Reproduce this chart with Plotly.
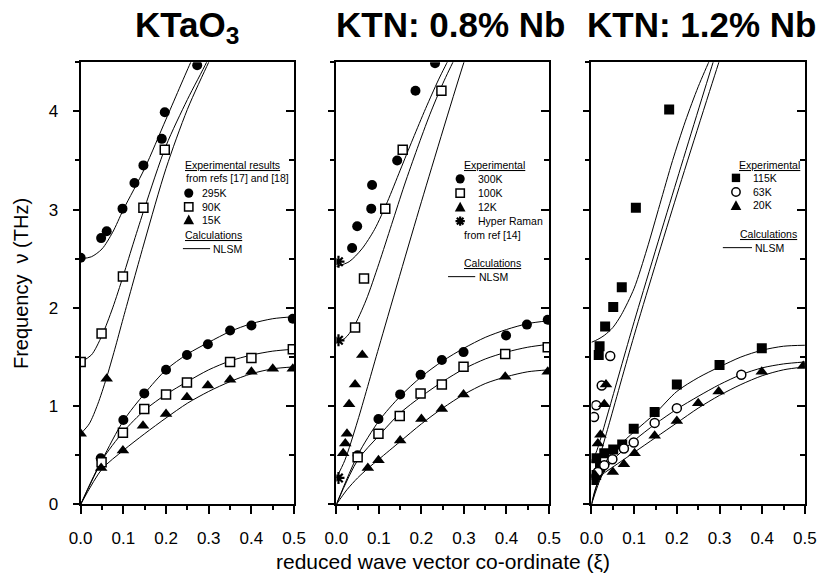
import plotly.graph_objects as go

W, H = 831, 580

# ---------------- data ----------------
# Panel 1: KTaO3
kt_295_x = [0.0, 0.048, 0.061, 0.098, 0.126, 0.147, 0.19, 0.197, 0.273, 0.047, 0.10, 0.149, 0.2, 0.249, 0.298, 0.35, 0.40, 0.497]
kt_295_y = [2.51, 2.71, 2.78, 3.01, 3.27, 3.45, 3.72, 3.99, 4.47, 0.47, 0.86, 1.13, 1.37, 1.52, 1.63, 1.77, 1.82, 1.89]
kt_90_x = [0.0, 0.049, 0.099, 0.147, 0.197, 0.049, 0.099, 0.149, 0.2, 0.249, 0.35, 0.40, 0.497]
kt_90_y = [1.45, 1.74, 2.32, 3.02, 3.61, 0.43, 0.73, 0.97, 1.12, 1.24, 1.45, 1.49, 1.58]
kt_15_x = [0.0, 0.061, 0.048, 0.099, 0.146, 0.2, 0.249, 0.298, 0.35, 0.40, 0.45, 0.497]
kt_15_y = [0.72, 1.28, 0.37, 0.55, 0.80, 0.92, 1.09, 1.21, 1.27, 1.35, 1.38, 1.38]

kt_to295_x = [0, 0.025, 0.05, 0.075, 0.1, 0.15, 0.2, 0.26, 0.28]
kt_to295_y = [2.5, 2.52, 2.6, 2.77, 3.0, 3.42, 3.92, 4.52, 4.7]
kt_to90_x = [0, 0.025, 0.05, 0.075, 0.1, 0.125, 0.15, 0.2, 0.25, 0.295, 0.31]
kt_to90_y = [1.45, 1.52, 1.72, 2.0, 2.33, 2.68, 3.02, 3.65, 4.12, 4.5, 4.65]
kt_to15_x = [0, 0.02, 0.04, 0.06, 0.08, 0.1, 0.15, 0.2, 0.25, 0.3, 0.32]
kt_to15_y = [0.72, 0.82, 1.02, 1.28, 1.58, 1.9, 2.68, 3.42, 4.02, 4.5, 4.68]
ta_x = [0, 0.05, 0.1, 0.15, 0.2, 0.25, 0.3, 0.35, 0.4, 0.45, 0.5]
kt_ta295_y = [0, 0.45, 0.85, 1.13, 1.37, 1.53, 1.65, 1.76, 1.84, 1.89, 1.91]
kt_ta90_y = [0, 0.45, 0.74, 0.96, 1.12, 1.25, 1.37, 1.46, 1.52, 1.56, 1.58]
kt_ta15_y = [0, 0.36, 0.55, 0.72, 0.88, 1.03, 1.15, 1.25, 1.33, 1.38, 1.40]

# Panel 2: KTN 0.8% Nb
k8_300_x = [0.037, 0.049, 0.082, 0.084, 0.143, 0.186, 0.232, 0.05, 0.099, 0.15, 0.198, 0.248, 0.299, 0.399, 0.448, 0.497]
k8_300_y = [2.61, 2.83, 3.01, 3.25, 3.50, 4.21, 4.49, 0.50, 0.87, 1.12, 1.32, 1.47, 1.55, 1.72, 1.83, 1.88]
k8_100_x = [0.044, 0.065, 0.115, 0.156, 0.247, 0.05, 0.099, 0.149, 0.198, 0.248, 0.299, 0.397, 0.497]
k8_100_y = [1.80, 2.30, 3.01, 3.61, 4.21, 0.48, 0.72, 0.90, 1.13, 1.22, 1.40, 1.53, 1.60]
k8_12_x = [0.016, 0.021, 0.025, 0.030, 0.044, 0.061, 0.074, 0.099, 0.15, 0.2, 0.248, 0.299, 0.397, 0.497]
k8_12_y = [0.52, 0.62, 0.72, 1.02, 1.22, 1.52, 0.37, 0.45, 0.65, 0.87, 0.97, 1.12, 1.30, 1.35]
k8_hr_x = [0.005, 0.005, 0.005]
k8_hr_y = [2.47, 1.67, 0.27]

k8_to300_x = [0, 0.03, 0.06, 0.09, 0.12, 0.15, 0.18, 0.21, 0.24, 0.27, 0.29]
k8_to300_y = [2.42, 2.47, 2.6, 2.8, 3.08, 3.4, 3.72, 4.03, 4.32, 4.58, 4.75]
k8_to100_x = [0, 0.02, 0.04, 0.07, 0.1, 0.13, 0.16, 0.19, 0.22, 0.25, 0.28, 0.3]
k8_to100_y = [1.65, 1.69, 1.8, 2.08, 2.45, 2.85, 3.25, 3.62, 3.97, 4.28, 4.55, 4.7]
k8_to12_x = [0, 0.02, 0.05, 0.1, 0.2, 0.3, 0.32]
k8_to12_y = [0.27, 0.45, 0.85, 1.6, 3.08, 4.5, 4.75]
k8_ta300_y = [0, 0.5, 0.85, 1.1, 1.3, 1.46, 1.59, 1.7, 1.78, 1.84, 1.87]
k8_ta100_y = [0, 0.45, 0.7, 0.93, 1.1, 1.25, 1.38, 1.48, 1.55, 1.6, 1.63]
k8_ta12_x = [0, 0.025, 0.05, 0.075, 0.1, 0.15, 0.2, 0.25, 0.3, 0.35, 0.4, 0.45, 0.5]
k8_ta12_y = [0, 0.15, 0.27, 0.37, 0.46, 0.64, 0.82, 0.98, 1.12, 1.23, 1.30, 1.35, 1.37]

# Panel 3: KTN 1.2% Nb
k12_115_x = [0.182, 0.104, 0.071, 0.051, 0.032, 0.019, 0.017, 0.399, 0.30, 0.20, 0.148, 0.099, 0.072, 0.051, 0.011, 0.011, 0.03, 0.02, 0.005]
k12_115_y = [4.02, 3.02, 2.21, 2.01, 1.81, 1.61, 1.52, 1.59, 1.42, 1.22, 0.94, 0.77, 0.61, 0.56, 0.47, 0.30, 0.52, 0.38, 0.25]
k12_63_x = [0.044, 0.024, 0.011, 0.006, 0.351, 0.20, 0.148, 0.099, 0.076, 0.049, 0.03, 0.015]
k12_63_y = [1.51, 1.21, 1.01, 0.89, 1.32, 0.98, 0.83, 0.63, 0.57, 0.46, 0.40, 0.33]
k12_20_x = [0.034, 0.030, 0.021, 0.015, 0.01, 0.008, 0.496, 0.399, 0.298, 0.25, 0.20, 0.148, 0.101, 0.076, 0.05]
k12_20_y = [1.22, 1.02, 0.71, 0.62, 0.45, 0.30, 1.41, 1.35, 1.15, 1.03, 0.85, 0.70, 0.52, 0.41, 0.33]

k12_to115_x = [0, 0.015, 0.03, 0.05, 0.07, 0.1, 0.13, 0.16, 0.19, 0.22, 0.25, 0.28, 0.3]
k12_to115_y = [1.65, 1.68, 1.72, 1.8, 1.93, 2.2, 2.6, 3.05, 3.5, 3.9, 4.25, 4.55, 4.72]
k12_to63_x = [0, 0.01, 0.02, 0.04, 0.1, 0.2, 0.285, 0.3]
k12_to63_y = [0.45, 0.52, 0.65, 0.95, 1.86, 3.3, 4.5, 4.7]
k12_to20_x = [0, 0.01, 0.02, 0.04, 0.1, 0.2, 0.3, 0.31]
k12_to20_y = [0.3, 0.37, 0.5, 0.8, 1.72, 3.15, 4.52, 4.65]
k12_ta115_x = [0, 0.02, 0.04, 0.065, 0.1, 0.15, 0.2, 0.25, 0.3, 0.35, 0.4, 0.45, 0.5]
k12_ta115_y = [0, 0.3, 0.48, 0.6, 0.74, 0.93, 1.15, 1.29, 1.40, 1.50, 1.57, 1.61, 1.62]
k12_ta63_x = [0, 0.025, 0.05, 0.1, 0.15, 0.2, 0.25, 0.3, 0.35, 0.4, 0.45, 0.5]
k12_ta63_y = [0, 0.3, 0.45, 0.65, 0.82, 0.97, 1.1, 1.22, 1.32, 1.39, 1.43, 1.45]
k12_ta20_x = [0, 0.01, 0.025, 0.05, 0.1, 0.15, 0.2, 0.25, 0.3, 0.35, 0.4, 0.45, 0.5]
k12_ta20_y = [0, 0.17, 0.3, 0.38, 0.53, 0.68, 0.83, 0.98, 1.11, 1.22, 1.31, 1.37, 1.40]

titles = ["KTaO<sub>3</sub>", "KTN: 0.8% Nb", "KTN: 1.2% Nb"]
x_ticks = [0.0, 0.1, 0.2, 0.3, 0.4, 0.5]
y_ticks = [0, 1, 2, 3, 4]

# ---------------- figure ----------------
FONT = "Liberation Sans, Arial, sans-serif"
fig = go.Figure()

def curve(x, y, ax):
    fig.add_trace(go.Scatter(x=x, y=y, mode="lines", xaxis=ax[0], yaxis=ax[1],
                             line=dict(color="black", width=1, shape="spline", smoothing=0.8),
                             showlegend=False, hoverinfo="skip"))

FILLED_CIRCLE = dict(symbol="circle", size=10, color="black", line=dict(width=0))
OPEN_SQUARE = dict(symbol="square", size=9, color="white", line=dict(width=1.5, color="black"))
FILLED_TRI = dict(symbol="triangle-up", size=11, color="black", line=dict(width=0))
FILLED_SQUARE = dict(symbol="square", size=10, color="black", line=dict(width=0))
OPEN_CIRCLE = dict(symbol="circle", size=9, color="white", line=dict(width=1.5, color="black"))
ASTER = dict(symbol="asterisk", size=10, color="black", line=dict(width=2.2, color="black"))

def pts(x, y, ax, marker):
    fig.add_trace(go.Scatter(x=x, y=y, mode="markers", xaxis=ax[0], yaxis=ax[1],
                             marker=marker, showlegend=False, hoverinfo="skip"))

A1, A2, A3 = ("x", "y"), ("x2", "y2"), ("x3", "y3")

for cx, cy in [(kt_to295_x, kt_to295_y), (kt_to90_x, kt_to90_y), (kt_to15_x, kt_to15_y),
               (ta_x, kt_ta295_y), (ta_x, kt_ta90_y), (ta_x, kt_ta15_y)]:
    curve(cx, cy, A1)
for cx, cy in [(k8_to300_x, k8_to300_y), (k8_to100_x, k8_to100_y), (k8_to12_x, k8_to12_y),
               (ta_x, k8_ta300_y), (ta_x, k8_ta100_y), (k8_ta12_x, k8_ta12_y)]:
    curve(cx, cy, A2)
for cx, cy in [(k12_to115_x, k12_to115_y), (k12_to63_x, k12_to63_y), (k12_to20_x, k12_to20_y),
               (k12_ta115_x, k12_ta115_y), (k12_ta63_x, k12_ta63_y), (k12_ta20_x, k12_ta20_y)]:
    curve(cx, cy, A3)

pts(kt_295_x, kt_295_y, A1, FILLED_CIRCLE)
pts(kt_90_x, kt_90_y, A1, OPEN_SQUARE)
pts(kt_15_x, kt_15_y, A1, FILLED_TRI)
pts(k8_300_x, k8_300_y, A2, FILLED_CIRCLE)
pts(k8_100_x, k8_100_y, A2, OPEN_SQUARE)
pts(k8_12_x, k8_12_y, A2, FILLED_TRI)
pts(k8_hr_x, k8_hr_y, A2, ASTER)
pts(k12_115_x, k12_115_y, A3, FILLED_SQUARE)
pts(k12_63_x, k12_63_y, A3, OPEN_CIRCLE)
pts(k12_20_x, k12_20_y, A3, FILLED_TRI)

# empty traces so the right-hand tick axes are drawn
for xa, ya in [("x", "y4"), ("x2", "y5"), ("x3", "y6")]:
    fig.add_trace(go.Scatter(x=[None], y=[None], xaxis=xa, yaxis=ya, mode="markers",
                             showlegend=False, hoverinfo="skip"))

# ---------------- axes ----------------
x_dom_px = [(70.7, 290.5), (334.0, 553.0), (596.7, 816.5)]
y_dom = [1 - 513.3 / H, 1 - 63.3 / H]

layout = dict(width=W, height=H, margin=dict(l=0, r=0, t=0, b=0),
              paper_bgcolor="white", plot_bgcolor="white", showlegend=False,
              font=dict(family=FONT, color="black"))

for i, (a, b) in enumerate(x_dom_px):
    n = "" if i == 0 else str(i + 1)
    layout["xaxis" + n] = dict(
        domain=[a / W, b / W], anchor="y" + n, range=[0, 0.5],
        tickvals=x_ticks, ticktext=[f"{v:.1f}" for v in x_ticks],
        ticks="outside", ticklen=8, tickwidth=1.5, tickcolor="black",
        minor=dict(ticks="outside", ticklen=4, dtick=0.05, tick0=0, tickwidth=1.5, tickcolor="black"),
        showline=True, linewidth=2, linecolor="black", mirror=True,
        showgrid=False, zeroline=False, tickfont=dict(size=17, family=FONT),
        ticklabelstandoff=9)
    layout["yaxis" + n] = dict(
        domain=y_dom, anchor="x" + n, range=[0, 4.5],
        tickvals=y_ticks, ticktext=[str(v) for v in y_ticks],
        showticklabels=(i == 0),
        ticks="outside", ticklen=6, tickwidth=1.5, tickcolor="black",
        minor=dict(ticks="outside", ticklen=4, dtick=0.5, tick0=0, tickwidth=1.5, tickcolor="black"),
        showline=True, linewidth=2, linecolor="black", mirror=True,
        showgrid=False, zeroline=False, tickfont=dict(size=17, family=FONT),
        ticklabelstandoff=11)
    layout["yaxis" + str(i + 4)] = dict(
        overlaying="y" + n, anchor="x" + n, side="right", range=[0, 4.5],
        tickvals=y_ticks, showticklabels=False,
        ticks="inside", ticklen=8, tickwidth=1.5, tickcolor="black",
        minor=dict(ticks="inside", ticklen=5, dtick=0.5, tick0=0, tickwidth=1.5, tickcolor="black"),
        showline=False, showgrid=False, zeroline=False)

fig.update_layout(**layout)

# ---------------- text ----------------
def X(px): return px / W
def Y(py): return 1 - py / H

ann = []
title_cx = [180, 452, 710]
for t, cx in zip(titles, title_cx):
    ann.append(dict(text="<b>" + t + "</b>", x=X(cx), y=Y(3), xref="paper", yref="paper",
                    xanchor="center", yanchor="top", showarrow=False,
                    font=dict(size=35, family=FONT)))
ann.append(dict(text="reduced wave vector co-ordinate (\u03be)", x=X(443.6), y=Y(571),
                xref="paper", yref="paper", xanchor="center", yanchor="middle",
                showarrow=False, font=dict(size=21, family=FONT)))
ann.append(dict(text="Frequency  \u03bd (THz)", x=X(10), y=Y(288.3), textangle=-90,
                xref="paper", yref="paper", xanchor="center", yanchor="middle",
                showarrow=False, font=dict(size=20, family=FONT)))

LF = dict(size=10.5, family=FONT)
def label(txt, px, py):
    ann.append(dict(text=txt, x=X(px), y=Y(py), xref="paper", yref="paper",
                    xanchor="left", yanchor="middle", showarrow=False, font=LF))

shapes = []
def sym_circle(cx, cy, filled=True, r=4.7):
    shapes.append(dict(type="circle", xref="paper", yref="paper",
                       x0=X(cx - r), x1=X(cx + r), y0=Y(cy + r), y1=Y(cy - r),
                       fillcolor="black" if filled else "white",
                       line=dict(color="black", width=0 if filled else 1.5)))
def sym_square(cx, cy, filled=True, s=4.3):
    shapes.append(dict(type="rect", xref="paper", yref="paper",
                       x0=X(cx - s), x1=X(cx + s), y0=Y(cy + s), y1=Y(cy - s),
                       fillcolor="black" if filled else "white",
                       line=dict(color="black", width=0 if filled else 1.5)))
def sym_tri(cx, cy, s=5.5):
    p = f"M {X(cx - s)},{Y(cy + s * 0.85)} L {X(cx + s)},{Y(cy + s * 0.85)} L {X(cx)},{Y(cy - s * 0.95)} Z"
    shapes.append(dict(type="path", xref="paper", yref="paper", path=p,
                       fillcolor="black", line=dict(color="black", width=0)))
def sym_aster(cx, cy, s=4.8):
    d = s * 0.707
    p = (f"M {X(cx - s)},{Y(cy)} L {X(cx + s)},{Y(cy)} "
         f"M {X(cx)},{Y(cy - s)} L {X(cx)},{Y(cy + s)} "
         f"M {X(cx - d)},{Y(cy - d)} L {X(cx + d)},{Y(cy + d)} "
         f"M {X(cx - d)},{Y(cy + d)} L {X(cx + d)},{Y(cy - d)}")
    shapes.append(dict(type="path", xref="paper", yref="paper", path=p,
                       line=dict(color="black", width=2.2)))
def sample_line(x0, x1, py):
    shapes.append(dict(type="line", xref="paper", yref="paper",
                       x0=X(x0), x1=X(x1), y0=Y(py), y1=Y(py),
                       line=dict(color="black", width=1)))

# legend panel 1
label("<u>Experimental results</u>", 176, 167.5)
label("from refs [17] and [18]", 177.5, 181.5)
sym_circle(182, 196.5); label("295K", 194, 196.5)
sym_square(182, 210.5, filled=False); label("90K", 194, 210.5)
sym_tri(182, 223.5); label("15K", 194, 223.5)
label("<u>Calculations</u>", 176, 239)
sample_line(176, 204, 253); label("NLSM", 205, 253)

# legend panel 2
label("<u>Experimental</u>", 463, 167.5)
sym_circle(461.5, 182); label("300K", 477.5, 182)
sym_square(461.5, 196.5, filled=False); label("100K", 477.5, 196.5)
sym_tri(461.5, 210.5); label("12K", 477.5, 210.5)
sym_aster(461.5, 225); label("Hyper Raman", 477.5, 225)
label("from ref [14]", 463, 239)
label("<u>Calculations</u>", 463, 267.5)
sample_line(449, 477, 281.5); label("NLSM", 478.5, 281.5)

# legend panel 3
label("<u>Experimental</u>", 747, 167.5)
sym_square(745.5, 181, filled=True); label("115K", 760.5, 181)
sym_circle(745.5, 195.3, filled=False, r=4.3); label("63K", 760.5, 195.3)
sym_tri(745.5, 209); label("20K", 760.5, 209)
label("<u>Calculations</u>", 747.5, 238.5)
sample_line(732, 762, 252); label("NLSM", 763, 252)

fig.update_layout(annotations=ann, shapes=shapes)
fig.write_html("out.html")
